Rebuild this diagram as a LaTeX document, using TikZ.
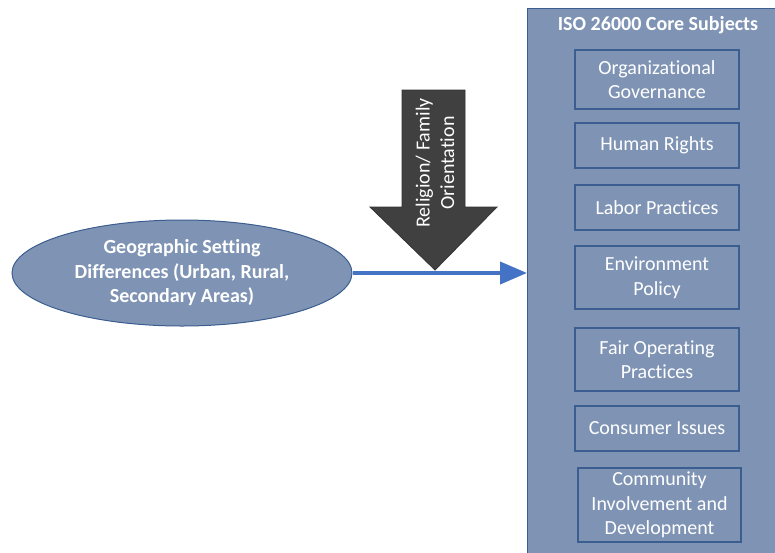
\documentclass[tikz,border=0pt]{standalone}
\usepackage{fontspec}
\setmainfont{Carlito}[Ligatures=NoCommon]
\usetikzlibrary{shapes.geometric,arrows.meta}
\definecolor{panelfill}{HTML}{7F94B4}
\definecolor{panelline}{HTML}{3B5D8F}
\definecolor{flowblue}{HTML}{4472C4}
\definecolor{blockgray}{HTML}{404040}
\begin{document}
\begin{tikzpicture}[x=1pt,y=-1pt,
  bodyfont/.style={font=\fontsize{20}{24.5}\selectfont},
  boldfont/.style={font=\bfseries\fontsize{20}{24.5}\selectfont},
  subject/.style={draw=panelline, line width=1.2pt, fill=panelfill, text=white,
    align=center, minimum width=164pt, inner sep=0pt, bodyfont},
  factor/.style={ellipse, draw=panelline, line width=1pt, fill=panelfill, text=white,
    align=center, minimum width=340pt, minimum height=106pt, inner sep=0pt, boldfont},
  flow/.style={flowblue, line width=4pt, -{Triangle[length=27pt,width=22pt]}},
  block/.style={fill=blockgray, draw=blockgray!80!black, line width=0.8pt}]
\useasboundingbox (0,0) rectangle (775,552);
\clip (0,0) rectangle (775,552);

% core subjects panel
\node[draw=panelline, fill=panelfill, line width=1.2pt, minimum width=252pt,
  minimum height=548pt, anchor=north west, inner sep=0pt] (panel) at (527,8) {};
\node[text=white, boldfont] (title) at (658,25) {ISO 26000 Core Subjects};

\node[subject, minimum height=59pt] (gov)  at (657,79.5)  {Organizational\\Governance};
\node[subject, minimum height=45pt] (hr)   at (657,145.5) {Human Rights};
\node[subject, minimum height=45pt] (lab)  at (657,207.5) {Labor Practices};
\node[subject, minimum height=63pt] (env)  at (657,277.5) {Environment\\Policy};
\node[subject, minimum height=63pt] (fair) at (657,359.5) {Fair Operating\\Practices};
\node[subject, minimum height=45pt] (cons) at (657,428.5) {Consumer Issues};
\node[subject, minimum height=74pt, minimum width=163pt] (comm) at (659.5,505)
  {Community\\Involvement and\\Development};

% geographic setting and its flow into the panel
\node[factor] (geo) at (182,273) {Geographic Setting\\Differences (Urban, Rural,\\Secondary Areas)};
\draw[flow] (geo.east) -- (geo.east -| panel.west);

% religion / family orientation block arrow
\coordinate (tip) at (435,270);
\path[block] (402,90) -- (465,90) -- (465,207) -- (497,207) -- (tip)
  -- (370,207) -- (402,207) -- cycle;
\node[rotate=90, text=white, align=center, bodyfont] (rel) at (435,163)
  {Religion/ Family\\Orientation};
\end{tikzpicture}
\end{document}
